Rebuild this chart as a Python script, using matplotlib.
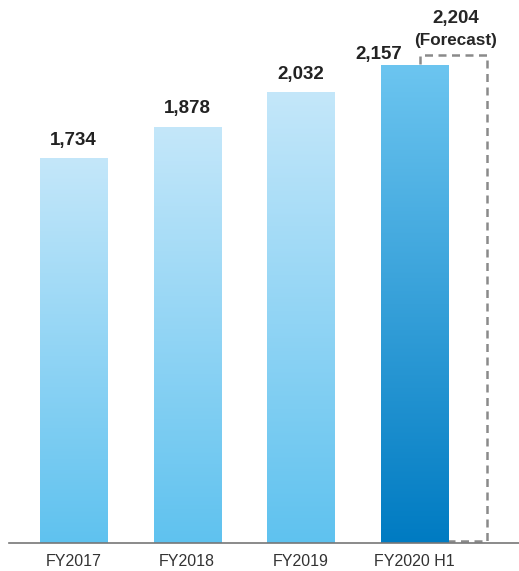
import numpy as np
import matplotlib
matplotlib.use("Agg")
import matplotlib.pyplot as plt
from matplotlib.colors import LinearSegmentedColormap

plt.rcParams['font.family'] = ['Liberation Sans', 'DejaVu Sans']

categories = ["FY2017", "FY2018", "FY2019", "FY2020 H1"]
values = [1734, 1878, 2032, 2157]
value_labels = ["1,734", "1,878", "2,032", "2,157"]
forecast_value = 2204
forecast_value_label = "2,204"
forecast_note = "(Forecast)"

W, H = 519, 571
PX = 0.2215  # pixels per unit on the value axis
fig = plt.figure(figsize=(W / 100, H / 100), dpi=100)
ax = fig.add_axes([9 / W, 28 / H, 510 / W, 543 / H])

x = np.arange(len(categories))
bar_w = 0.59
ax.set_xlim(-0.567, 3.918)
ax.set_ylim(0, 543 / PX)

light = LinearSegmentedColormap.from_list("light", ["#5fc2ef", "#c4e7fa"])
dark = LinearSegmentedColormap.from_list("dark", ["#007bc2", "#6cc5f0"])
grad = np.linspace(0, 1, 256).reshape(-1, 1)

# forecast outline box, sitting behind the last bar
fx = x[-1] + 0.343
ax.bar(fx, forecast_value - 8, bottom=8, width=bar_w, facecolor="none",
       edgecolor="#8a8a8a", linewidth=1.8, linestyle=(0, (3.2, 2.2)), zorder=1)

for i, v in enumerate(values):
    cmap = dark if i == len(values) - 1 else light
    left = x[i] - bar_w / 2
    ax.imshow(grad, extent=[left, left + bar_w, 0, v], origin="lower",
              cmap=cmap, aspect="auto", zorder=2, interpolation="bicubic")
    if i == len(values) - 1:
        lx, ly = x[i] - 0.312, v + 6 / PX
    else:
        lx, ly = x[i], v + 14 / PX
    ax.text(lx, ly, value_labels[i], ha="center", va="baseline",
            fontsize=13.5, fontweight="bold", color="#222222", zorder=5)

ax.text(fx + 0.021, forecast_value + 143, forecast_value_label, ha="center",
        va="baseline", fontsize=13.5, fontweight="bold", color="#262626", zorder=5)
ax.text(fx + 0.021, forecast_value + 44, forecast_note, ha="center",
        va="baseline", fontsize=12.3, fontweight="bold", color="#262626", zorder=5)

ax.set_xticks(x)
ax.set_xticklabels(categories, fontsize=11.5, color="#333333")
ax.tick_params(axis="x", length=0, pad=8)
ax.set_yticks([])
for s in ["top", "right", "left"]:
    ax.spines[s].set_visible(False)
ax.spines["bottom"].set_color("#777777")
ax.spines["bottom"].set_linewidth(1.2)
ax.spines["bottom"].set_zorder(4)
ax.set_facecolor("white")

fig.savefig("out.png", dpi=100)
